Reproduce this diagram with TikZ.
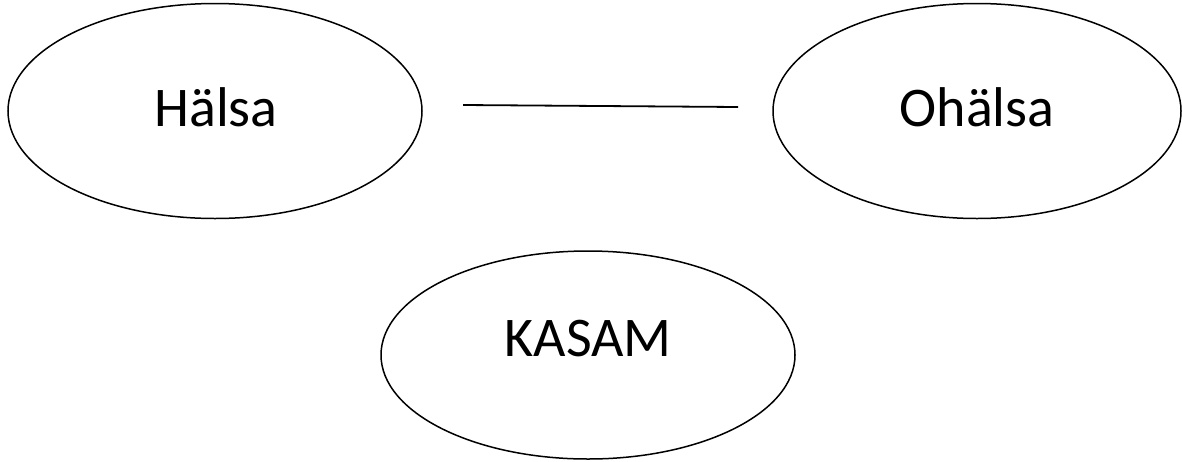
\documentclass[tikz,border=0pt]{standalone}
\usepackage{fontspec}
\setmainfont{Carlito}
\usetikzlibrary{shapes.geometric}
\begin{document}
\begin{tikzpicture}[x=1pt,y=-1pt,
  oval/.style={draw=black, line width=1.5pt, ellipse, inner sep=0pt},
  lbl/.style={font=\fontsize{56}{62}\selectfont, inner sep=0pt, anchor=base},
  link/.style={draw=black, line width=1.8pt}]
\useasboundingbox (0,0) rectangle (1182,461);
\node[oval, minimum width=414pt, minimum height=215pt] (h) at (215,111) {};
\node[oval, minimum width=408pt, minimum height=215pt] (o) at (977,111) {};
\node[oval, minimum width=414pt, minimum height=208pt] (k) at (588,355) {};
\node[lbl] (ht) at (216,126) {Hälsa};
\node[lbl] (ot) at (977,126) {Ohälsa};
\node[lbl] (kt) at (588,356) {KASAM};
\coordinate (a) at (463,105);
\coordinate (b) at (738,107);
\draw[link] (a) -- (b);
\end{tikzpicture}
\end{document}
